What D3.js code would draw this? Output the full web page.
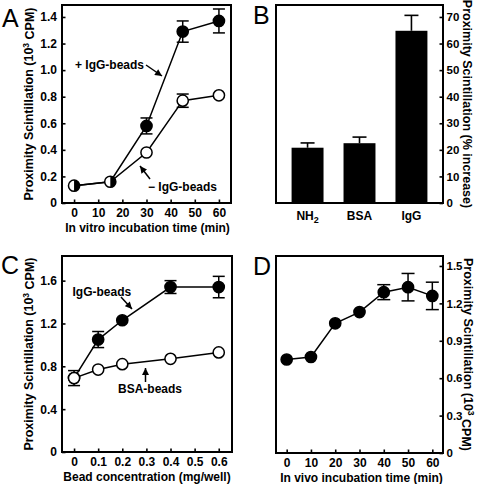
<!DOCTYPE html>
<html><head><meta charset="utf-8">
<script src="https://cdn.jsdelivr.net/npm/d3@7"></script>
<style>
html,body{margin:0;padding:0;background:#fff;}
svg text{font-family:"Liberation Sans",Arial,sans-serif;font-weight:bold;fill:#000;white-space:pre;}
</style></head>
<body><svg id="chart" width="488" height="484"></svg>
<script>
// ---------- Data ----------
const aTime = [0, 15, 30, 45, 60];
const aPlusIgG = [0.13, 0.16, 0.58, 1.29, 1.37];
const aPlusIgGErr = [0, 0, 0.06, 0.08, 0.09];
const aMinusIgG = [0.13, 0.16, 0.38, 0.77, 0.81];
const aMinusIgGErr = [0, 0, 0, 0.05, 0];
const aXTicks = [0, 10, 20, 30, 40, 50, 60];
const aYTicks = [0, 0.2, 0.4, 0.6, 0.8, 1.0, 1.2, 1.4];

const bCats = ["NH2", "BSA", "IgG"];
const bVals = [20.8, 22.5, 64.8];
const bErr = [1.8, 2.3, 5.8];
const bYTicks = [0, 10, 20, 30, 40, 50, 60, 70];

const cConc = [0, 0.1, 0.2, 0.4, 0.6];
const cIgG = [0.69, 1.05, 1.23, 1.54, 1.54];
const cIgGErr = [0.07, 0.075, 0, 0.06, 0.1];
const cBSA = [0.69, 0.77, 0.82, 0.87, 0.93];
const cBSAErr = [0, 0, 0, 0, 0];
const cXTicks = [0, 0.1, 0.2, 0.3, 0.4, 0.5, 0.6];
const cYTicks = [0, 0.4, 0.8, 1.2, 1.6];

const dTime = [0, 10, 20, 30, 40, 50, 60];
const dVals = [0.75, 0.77, 1.04, 1.13, 1.29, 1.33, 1.26];
const dErr = [0, 0, 0, 0, 0.06, 0.11, 0.11];
const dXTicks = [0, 10, 20, 30, 40, 50, 60];
const dYTicks = [0, 0.3, 0.6, 0.9, 1.2, 1.5];

// ---------- Setup ----------
const svg = d3.select("#chart");
const defs = svg.append("defs");
defs.append("marker").attr("id", "arrow").attr("viewBox", "0 0 10 10")
  .attr("refX", 10).attr("refY", 5).attr("markerWidth", 8).attr("markerHeight", 7)
  .attr("markerUnits", "userSpaceOnUse").attr("orient", "auto")
  .append("path").attr("d", "M0,0 L10,5 L0,10 Z").attr("fill", "#000");

const R = 5.6;
const fmt1 = d3.format(".1f");

function frame(x0, x1, y0, y1) {
  svg.append("rect").attr("x", x0).attr("y", y0).attr("width", x1 - x0).attr("height", y1 - y0)
    .attr("fill", "none").attr("stroke", "#000").attr("stroke-width", 2);
}
function styleAxis(g, size) {
  g.select(".domain").remove();
  g.selectAll(".tick line").attr("stroke", "#000").attr("stroke-width", 1.6);
  g.selectAll(".tick text").attr("font-size", size || 12).attr("font-family", "Liberation Sans, Arial, sans-serif").attr("font-weight", "bold");
}
function letter(t, x, y) {
  svg.append("text").attr("x", x).attr("y", y).attr("font-size", 25).style("font-weight", "normal").text(t);
}
function yLabel(x, y, rot, parts) {
  const t = svg.append("text").attr("transform", `translate(${x},${y}) rotate(${rot})`)
    .attr("text-anchor", "middle").attr("font-size", 12.5);
  parts.forEach(p => {
    const s = t.append("tspan").text(p.t);
    if (p.sup) s.attr("dy", "-0.45em").attr("font-size", 8.5);
    if (p.after) s.attr("dy", "0.45em");
  });
}
function xLabel(x, y, txt) {
  svg.append("text").attr("x", x).attr("y", y).attr("text-anchor", "middle").attr("font-size", 12).text(txt);
}
function errBars(x, y, xs, vals, errs, cap) {
  xs.forEach((xv, i) => {
    const e = errs[i]; if (!e) return;
    const cx = x(xv);
    svg.append("line").attr("x1", cx).attr("x2", cx).attr("y1", y(vals[i] - e)).attr("y2", y(vals[i] + e))
      .attr("stroke", "#000").attr("stroke-width", 1.5);
    [vals[i] - e, vals[i] + e].forEach(v => {
      svg.append("line").attr("x1", cx - cap).attr("x2", cx + cap).attr("y1", y(v)).attr("y2", y(v))
        .attr("stroke", "#000").attr("stroke-width", 1.5);
    });
  });
}
function series(x, y, xs, vals) {
  svg.append("path").datum(xs.map((d, i) => [d, vals[i]]))
    .attr("d", d3.line().x(d => x(d[0])).y(d => y(d[1])))
    .attr("fill", "none").attr("stroke", "#000").attr("stroke-width", 1.5);
}
function markers(x, y, xs, vals, filled, skip) {
  xs.forEach((xv, i) => {
    if (skip && skip(i)) return;
    svg.append("circle").attr("cx", x(xv)).attr("cy", y(vals[i])).attr("r", R)
      .attr("fill", filled ? "#000" : "#fff").attr("stroke", "#000").attr("stroke-width", 1.5);
  });
}
function arrow(x1, y1, x2, y2) {
  svg.append("line").attr("x1", x1).attr("y1", y1).attr("x2", x2).attr("y2", y2)
    .attr("stroke", "#000").attr("stroke-width", 1.5).attr("marker-end", "url(#arrow)");
}
function note(x, y, txt) {
  svg.append("text").attr("x", x).attr("y", y).attr("font-size", 12).text(txt);
}

// ---------- Panel A ----------
{
  const X0 = 62, X1 = 231, Y0 = 5, Y1 = 203;
  const x = d3.scaleLinear().domain([-5, 65]).range([X0, X1]);
  const y = d3.scaleLinear().domain([0, 1.49]).range([Y1, Y0]);
  frame(X0, X1, Y0, Y1);
  svg.append("g").attr("transform", `translate(${X0},0)`)
    .call(d3.axisLeft(y).tickValues(aYTicks).tickSizeInner(-3.5).tickSizeOuter(0).tickPadding(5)
      .tickFormat(d => d === 0 ? "0" : fmt1(d))).call(styleAxis);
  svg.append("g").attr("transform", `translate(0,${Y1})`)
    .call(d3.axisBottom(x).tickValues(aXTicks).tickSizeInner(-3.5).tickSizeOuter(0).tickPadding(5)).call(styleAxis);
  series(x, y, aTime, aPlusIgG);
  series(x, y, aTime, aMinusIgG);
  errBars(x, y, aTime, aPlusIgG, aPlusIgGErr, 6);
  errBars(x, y, aTime, aMinusIgG, aMinusIgGErr, 6);
  const same = i => aPlusIgG[i] === aMinusIgG[i];
  markers(x, y, aTime, aPlusIgG, true, same);
  markers(x, y, aTime, aMinusIgG, false, same);
  // half-filled markers where the two series coincide
  aTime.forEach((t, i) => {
    if (!same(i)) return;
    const cx = x(t), cy = y(aPlusIgG[i]);
    svg.append("circle").attr("cx", cx).attr("cy", cy).attr("r", R).attr("fill", "#fff")
      .attr("stroke", "#000").attr("stroke-width", 1.5);
    svg.append("path").attr("d", `M${cx},${cy - R} A${R},${R} 0 0 1 ${cx},${cy + R} Z`).attr("fill", "#000");
  });
  note(75, 69, "+ IgG-beads");
  arrow(146, 65, 162, 76);
  note(148, 191, "\u2212 IgG-beads");
  arrow(150, 179, 140, 166);
  yLabel(32.5, (Y0 + Y1) / 2, -90, [{t: "Proximity Scintillation (10"}, {t: "3", sup: true}, {t: " CPM)", after: true}]);
  xLabel((X0 + X1) / 2 + 1, 232, "In vitro incubation time (min)");
  letter("A", 2, 27);
}

// ---------- Panel B ----------
{
  const X0 = 276, X1 = 443, Y0 = 5, Y1 = 203;
  const x = d3.scaleBand().domain(bCats).range([X0, X1]).paddingInner(0.385).paddingOuter(0.3);
  const y = d3.scaleLinear().domain([0, 74.5]).range([Y1, Y0]);
  svg.append("g").selectAll("rect").data(bCats).join("rect")
    .attr("x", d => x(d)).attr("width", x.bandwidth())
    .attr("y", (d, i) => y(bVals[i])).attr("height", (d, i) => Y1 - y(bVals[i])).attr("fill", "#000");
  bCats.forEach((c, i) => {
    const cx = x(c) + x.bandwidth() / 2;
    svg.append("line").attr("x1", cx).attr("x2", cx).attr("y1", y(bVals[i])).attr("y2", y(bVals[i] + bErr[i]))
      .attr("stroke", "#000").attr("stroke-width", 1.6);
    svg.append("line").attr("x1", cx - 7).attr("x2", cx + 7).attr("y1", y(bVals[i] + bErr[i])).attr("y2", y(bVals[i] + bErr[i]))
      .attr("stroke", "#000").attr("stroke-width", 1.6);
  });
  frame(X0, X1, Y0, Y1);
  svg.append("g").attr("transform", `translate(${X1},0)`)
    .call(d3.axisRight(y).tickValues(bYTicks).tickSizeInner(-3.5).tickSizeOuter(0).tickPadding(3.5)).call(g => styleAxis(g, 11.5));
  bCats.forEach(c => {
    const t = svg.append("text").attr("x", x(c) + x.bandwidth() / 2).attr("y", 220)
      .attr("text-anchor", "middle").attr("font-size", 12);
    if (c === "NH2") {
      t.append("tspan").text("NH");
      t.append("tspan").attr("dy", "0.3em").attr("font-size", 9).text("2");
    } else t.text(c);
  });
  yLabel(463, (Y0 + Y1) / 2, 90, [{t: "Proximity Scintillation (% increase)"}]);
  letter("B", 253, 24);
}

// ---------- Panel C ----------
{
  const X0 = 62, X1 = 232, Y0 = 256, Y1 = 452;
  const x = d3.scaleLinear().domain([-0.05, 0.655]).range([X0, X1]);
  const y = d3.scaleLinear().domain([0, 1.83]).range([Y1, Y0]);
  frame(X0, X1, Y0, Y1);
  svg.append("g").attr("transform", `translate(${X0},0)`)
    .call(d3.axisLeft(y).tickValues(cYTicks).tickSizeInner(-3.5).tickSizeOuter(0).tickPadding(5)
      .tickFormat(d => d === 0 ? "0" : fmt1(d))).call(styleAxis);
  svg.append("g").attr("transform", `translate(0,${Y1})`)
    .call(d3.axisBottom(x).tickValues(cXTicks).tickSizeInner(-3.5).tickSizeOuter(0).tickPadding(5)
      .tickFormat(d => d === 0 ? "0" : fmt1(d))).call(styleAxis);
  series(x, y, cConc, cIgG);
  series(x, y, cConc, cBSA);
  errBars(x, y, cConc, cIgG, cIgGErr, 6);
  errBars(x, y, cConc, cBSA, cBSAErr, 6);
  markers(x, y, cConc, cIgG, true);
  markers(x, y, cConc, cBSA, false);
  note(72.5, 296, "IgG-beads");
  arrow(121, 297, 132, 309);
  note(118, 393, "BSA-beads");
  arrow(145.5, 382, 145.5, 368);
  yLabel(32.5, (Y0 + Y1) / 2, -90, [{t: "Proximity Scintillation (10"}, {t: "3", sup: true}, {t: " CPM)", after: true}]);
  xLabel((X0 + X1) / 2, 481, "Bead concentration (mg/well)");
  letter("C", 1, 274);
}

// ---------- Panel D ----------
{
  const X0 = 276, X1 = 443, Y0 = 256, Y1 = 453;
  const x = d3.scaleLinear().domain([-4.4, 64.4]).range([X0, X1]);
  const y = d3.scaleLinear().domain([0, 1.58]).range([Y1, Y0]);
  frame(X0, X1, Y0, Y1);
  svg.append("g").attr("transform", `translate(${X1},0)`)
    .call(d3.axisRight(y).tickValues(dYTicks).tickSizeInner(-3.5).tickSizeOuter(0).tickPadding(3.5)
      .tickFormat(d => d === 0 ? "0" : fmt1(d))).call(g => styleAxis(g, 11.5));
  svg.append("g").attr("transform", `translate(0,${Y1})`)
    .call(d3.axisBottom(x).tickValues(dXTicks).tickSizeInner(-3.5).tickSizeOuter(0).tickPadding(5)).call(styleAxis);
  series(x, y, dTime, dVals);
  errBars(x, y, dTime, dVals, dErr, 6.5);
  markers(x, y, dTime, dVals, true);
  yLabel(464, (Y0 + Y1) / 2, 90, [{t: "Proximity Scintillation (10"}, {t: "3", sup: true}, {t: " CPM)", after: true}]);
  xLabel((X0 + X1) / 2 + 2, 482, "In vivo incubation time (min)");
  letter("D", 253, 275);
}
</script></body></html>
